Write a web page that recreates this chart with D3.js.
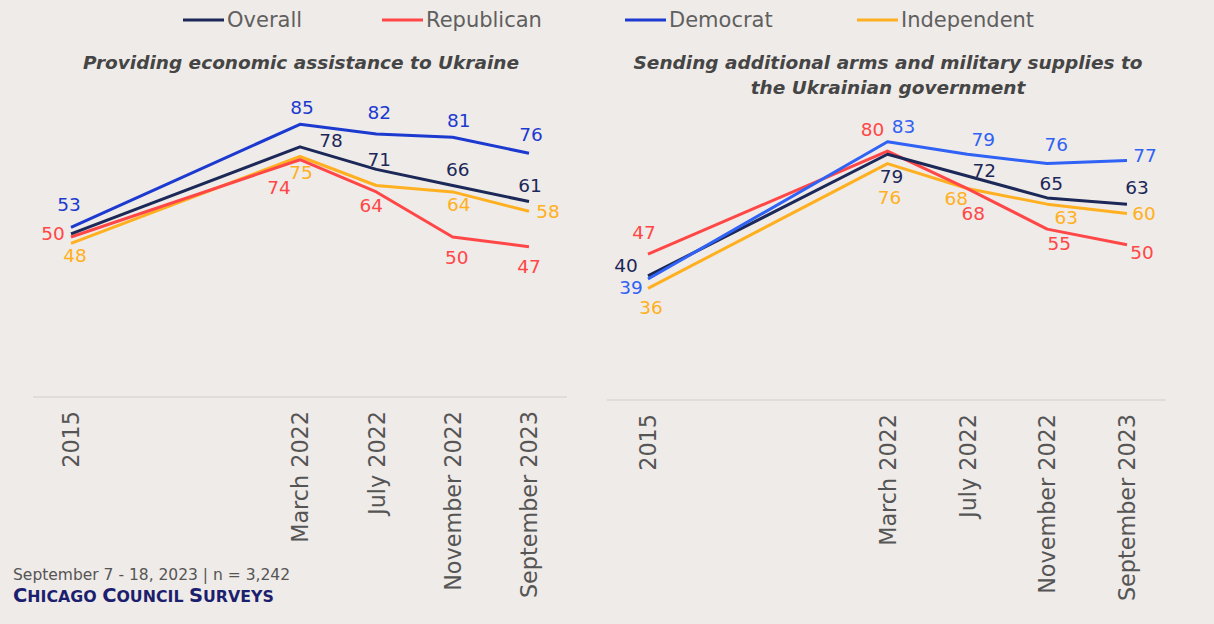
<!DOCTYPE html>
<html>
<head>
<meta charset="utf-8">
<script src="https://cdn.jsdelivr.net/npm/d3@7"></script>
<style>
  body { margin: 0; background: #efebe8; }
  svg { display: block; font-family: "DejaVu Sans", sans-serif; }
</style>
</head>
<body>
<svg id="chart" width="1214" height="624"></svg>
<script>
// categories (two blank slots keep the gap between 2015 and 2022)
const waves = ["2015", "", " ", "March 2022", "July 2022", "November 2022", "September 2023"];
const waveKeys = ["2015", "March 2022", "July 2022", "November 2022", "September 2023"];

const seriesNames = ["Overall", "Republican", "Democrat", "Independent"];

// Providing economic assistance to Ukraine
const econOverall = [51, 78, 71, 66, 61];
const econRepublican = [50, 74, 64, 50, 47];
const econDemocrat = [53, 85, 82, 81, 76];
const econIndependent = [48, 75, 66, 64, 58];

// Sending additional arms and military supplies
const armsOverall = [40, 79, 72, 65, 63];
const armsRepublican = [47, 80, 68, 55, 50];
const armsDemocrat = [39, 83, 79, 76, 77];
const armsIndependent = [36, 76, 68, 63, 60];

// which points carry a label
const econShown = {
  Overall: [false, true, true, true, true],
  Republican: [true, true, true, true, true],
  Democrat: [true, true, true, true, true],
  Independent: [true, true, false, true, true]
};

// label offsets from their point [dx, dy]
const econOffsets = {
  Overall: [[0,0],[31,-6],[3,-10],[5,-16],[1,-16]],
  Republican: [[-18,-3],[-21,28],[-5,14],[4,21],[0,20]],
  Democrat: [[-2,-23],[2,-17],[3,-21],[6,-17],[2,-19]],
  Independent: [[4,12],[1,16],[0,0],[6,13],[19,0]]
};
const armsOffsets = {
  Overall: [[-22,-10],[4,22],[17,-6],[4,-14],[10,-17]],
  Republican: [[-4,-22],[-15,-22],[6,25],[12,14],[15,8]],
  Democrat: [[-17,9],[16,-15],[16,-15],[9,-19],[18,-5]],
  Independent: [[3,19],[2,34],[-11,10],[19,13],[17,0]]
};

const legendColors = { Overall: "#1b2858", Republican: "#ff4747", Democrat: "#1c3ad0", Independent: "#ffb020" };

const svg = d3.select("#chart");
svg.append("rect").attr("width", 1214).attr("height", 624).attr("fill", "#efebe8");

// legend
const legendX = [183, 382, 625, 857];
seriesNames.forEach((name, i) => {
  const g = svg.append("g").attr("transform", "translate(" + legendX[i] + ",20)");
  g.append("line").attr("x1", 0).attr("x2", 41).attr("stroke", legendColors[name]).attr("stroke-width", 3);
  g.append("text").attr("x", 44).attr("dy", "0.35em")
    .attr("fill", "#5f5f5f").attr("font-size", 21).text(name);
});

function panel(opts) {
  const x = d3.scalePoint().domain(waves).range(opts.xRange);
  const y = d3.scaleLinear().domain([0, 100]).range(opts.yRange);
  const g = svg.append("g");

  // title
  const title = g.append("text")
    .attr("x", opts.titleX).attr("y", opts.titleY)
    .attr("text-anchor", "middle")
    .attr("font-size", 18.5).attr("font-style", "italic").attr("font-weight", 700)
    .attr("fill", "#454545");
  opts.title.forEach((t, i) => {
    title.append("tspan").attr("x", opts.titleX).attr("dy", i === 0 ? 0 : 25).text(t);
  });

  // baseline
  g.append("line")
    .attr("x1", opts.axisX[0]).attr("x2", opts.axisX[1])
    .attr("y1", opts.axisY).attr("y2", opts.axisY)
    .attr("stroke", "#d9d9d9").attr("stroke-width", 1.5);

  // x tick labels
  const xAxis = d3.axisBottom(x).tickValues(waveKeys).tickSize(0).tickPadding(0);
  const ax = g.append("g").attr("transform", "translate(0," + (opts.axisY + 14) + ")").call(xAxis);
  ax.select(".domain").remove();
  ax.selectAll("text")
    .attr("transform", "rotate(-90)")
    .attr("x", 0).attr("y", 0).attr("dy", "0.35em")
    .style("text-anchor", "end")
    .attr("font-size", 22.3).attr("fill", "#555")
    .attr("font-family", "DejaVu Sans, sans-serif");

  const line = d3.line().x((d, i) => x(waveKeys[i])).y(d => y(d));

  opts.order.forEach(name => {
    g.append("path").datum(opts.data[name])
      .attr("fill", "none").attr("stroke", opts.colors[name])
      .attr("stroke-width", 3).attr("stroke-linejoin", "round")
      .attr("d", line);
  });

  seriesNames.forEach(name => {
    opts.data[name].forEach((v, i) => {
      if (opts.shown && !opts.shown[name][i]) return;
      const off = opts.offsets[name][i];
      g.append("text")
        .attr("x", x(waveKeys[i]) + off[0])
        .attr("y", y(v) + off[1])
        .attr("dy", "0.35em").attr("text-anchor", "middle")
        .attr("font-size", 18.5).attr("fill", opts.colors[name])
        .text(v);
    });
  });
}

panel({
  xRange: [71, 529], yRange: [398, 76],
  axisX: [33, 567], axisY: 397,
  titleX: 301, titleY: 69,
  title: ["Providing economic assistance to Ukraine"],
  data: { Overall: econOverall, Republican: econRepublican, Democrat: econDemocrat, Independent: econIndependent },
  colors: { Overall: "#1b2858", Republican: "#ff4747", Democrat: "#1c3ad0", Independent: "#ffb020" },
  order: ["Independent", "Republican", "Overall", "Democrat"],
  shown: econShown,
  offsets: econOffsets
});

panel({
  xRange: [648, 1127], yRange: [400.7, 88.7],
  axisX: [607, 1166], axisY: 400,
  titleX: 888, titleY: 69,
  title: ["Sending additional arms and military supplies to", "the Ukrainian government"],
  data: { Overall: armsOverall, Republican: armsRepublican, Democrat: armsDemocrat, Independent: armsIndependent },
  colors: { Overall: "#1b2858", Republican: "#ff4747", Democrat: "#2f62f5", Independent: "#ffb020" },
  order: ["Independent", "Republican", "Overall", "Democrat"],
  shown: null,
  offsets: armsOffsets
});

// footer
svg.append("text").attr("x", 13).attr("y", 580)
  .attr("font-size", 15.5).attr("fill", "#555")
  .text("September 7 - 18, 2023 | n = 3,242");
const brand = svg.append("text").attr("x", 13).attr("y", 602)
  .attr("font-weight", 700).attr("fill", "#1c1f6e");
[["C", 19.5], ["HICAGO ", 15.8], ["C", 19.5], ["OUNCIL ", 15.8], ["S", 19.5], ["URVEYS", 15.8]].forEach(p => {
  brand.append("tspan").attr("font-size", p[1]).text(p[0]);
});
</script>
</body>
</html>
